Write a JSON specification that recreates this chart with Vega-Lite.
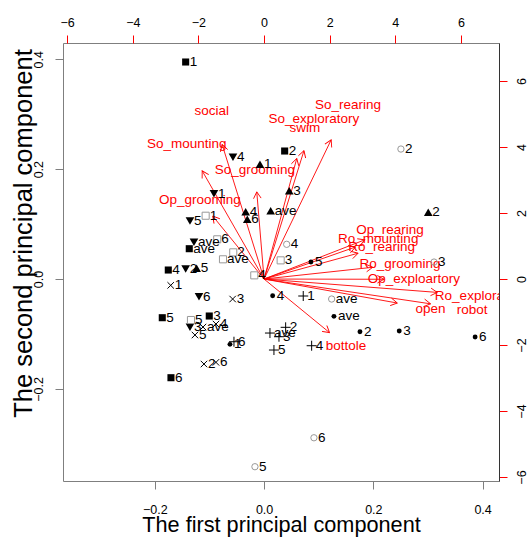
{
  "$schema": "https://vega.github.io/schema/vega-lite/v6.json",
  "width": 436,
  "height": 438,
  "autosize": {"type": "none"},
  "padding": {"left": 63, "top": 43, "right": 30, "bottom": 56},
  "background": "white",
  "config": {
    "font": "Liberation Sans",
    "view": {"stroke": "#7f7f7f", "strokeWidth": 1},
    "axis": {"grid": false, "domain": false, "labelFont": "Liberation Sans", "labelFontSize": 12.5, "labelColor": "black", "tickSize": 8, "tickColor": "#7f7f7f", "titleFont": "Liberation Sans", "titleFontWeight": "normal", "titleFontSize": 21.7, "titleColor": "black"}
  },
  "datasets": {
    "pts": [
      {"g": "sq", "label": "1", "x": -0.1435, "y": 0.395},
      {"g": "sq", "label": "2", "x": 0.0377, "y": 0.233},
      {"g": "sq", "label": "3", "x": -0.1003, "y": -0.0673},
      {"g": "sq", "label": "4", "x": -0.1753, "y": 0.0164},
      {"g": "sq", "label": "5", "x": -0.1863, "y": -0.0704},
      {"g": "sq", "label": "6", "x": -0.1704, "y": -0.1796},
      {"g": "sq", "label": "ave", "x": -0.1369, "y": 0.0552},
      {"g": "dn", "label": "1", "x": -0.0917, "y": 0.1553},
      {"g": "dn", "label": "2", "x": -0.1435, "y": 0.0182},
      {"g": "dn", "label": "3", "x": -0.1356, "y": -0.0879},
      {"g": "dn", "label": "4", "x": -0.0569, "y": 0.2215},
      {"g": "dn", "label": "5", "x": -0.1356, "y": 0.1056},
      {"g": "dn", "label": "6", "x": -0.1191, "y": -0.0322},
      {"g": "dn", "label": "ave", "x": -0.1283, "y": 0.0668},
      {"g": "up", "label": "1", "x": -0.0075, "y": 0.2088},
      {"g": "up", "label": "2", "x": 0.3005, "y": 0.1214},
      {"g": "up", "label": "3", "x": 0.0461, "y": 0.1607},
      {"g": "up", "label": "4", "x": -0.0337, "y": 0.1225},
      {"g": "up", "label": "5", "x": -0.1234, "y": 0.0195},
      {"g": "up", "label": "6", "x": -0.0307, "y": 0.1087},
      {"g": "up", "label": "ave", "x": 0.0121, "y": 0.1243},
      {"g": "osq", "label": "1", "x": -0.1069, "y": 0.1152},
      {"g": "osq", "label": "2", "x": -0.0564, "y": 0.0486},
      {"g": "osq", "label": "3", "x": 0.0304, "y": 0.034},
      {"g": "osq", "label": "4", "x": -0.0179, "y": 0.0067},
      {"g": "osq", "label": "5", "x": -0.1338, "y": -0.0746},
      {"g": "osq", "label": "6", "x": -0.0857, "y": 0.0723},
      {"g": "osq", "label": "ave", "x": -0.0752, "y": 0.0359},
      {"g": "oci", "label": "2", "x": 0.2505, "y": 0.2366},
      {"g": "oci", "label": "3", "x": 0.3111, "y": 0.0309},
      {"g": "oci", "label": "4", "x": 0.0414, "y": 0.0632},
      {"g": "oci", "label": "5", "x": -0.0167, "y": -0.3416},
      {"g": "oci", "label": "6", "x": 0.0913, "y": -0.2889},
      {"g": "oci", "label": "ave", "x": 0.1237, "y": -0.0364},
      {"g": "x", "label": "1", "x": -0.1709, "y": -0.0115},
      {"g": "x", "label": "2", "x": -0.11, "y": -0.1547},
      {"g": "x", "label": "3", "x": -0.0575, "y": -0.0364},
      {"g": "x", "label": "4", "x": -0.088, "y": -0.0819},
      {"g": "x", "label": "5", "x": -0.1265, "y": -0.1019},
      {"g": "x", "label": "6", "x": -0.088, "y": -0.1516},
      {"g": "x", "label": "ave", "x": -0.1118, "y": -0.0874},
      {"g": "plus", "label": "1", "x": 0.0717, "y": -0.0309},
      {"g": "plus", "label": "2", "x": 0.0395, "y": -0.0879},
      {"g": "plus", "label": "3", "x": 0.0273, "y": -0.105},
      {"g": "plus", "label": "4", "x": 0.0871, "y": -0.1214},
      {"g": "plus", "label": "5", "x": 0.0181, "y": -0.1292},
      {"g": "plus", "label": "6", "x": -0.0551, "y": -0.1141},
      {"g": "plus", "label": "ave", "x": 0.0108, "y": -0.0983},
      {"g": "dot", "label": "1", "x": -0.0624, "y": -0.1189},
      {"g": "dot", "label": "2", "x": 0.1755, "y": -0.0959},
      {"g": "dot", "label": "3", "x": 0.2474, "y": -0.0946},
      {"g": "dot", "label": "4", "x": 0.0157, "y": -0.0304},
      {"g": "dot", "label": "5", "x": 0.0858, "y": 0.0309},
      {"g": "dot", "label": "6", "x": 0.3863, "y": -0.1056},
      {"g": "dot", "label": "ave", "x": 0.1279, "y": -0.0679}
    ],
    "vars": [
      {"v": "social", "lx": -1.597, "ly": 5.10, "ax": -1.278, "ay": 4.08, "ang": 342.7},
      {"v": "So_rearing", "lx": 2.556, "ly": 5.273, "ax": 2.045, "ay": 4.218, "ang": 25.7},
      {"v": "So_exploratory", "lx": 1.52, "ly": 4.864, "ax": 1.216, "ay": 3.891, "ang": 17.3},
      {"v": "swim", "lx": 1.246, "ly": 4.567, "ax": 0.997, "ay": 3.654, "ang": 15.2},
      {"v": "So_mounting", "lx": -2.358, "ly": 4.10, "ax": -1.886, "ay": 3.28, "ang": 330.2},
      {"v": "So_grooming", "lx": -0.277, "ly": 3.303, "ax": -0.222, "ay": 2.642, "ang": 355.2},
      {"v": "Op_grooming", "lx": -1.953, "ly": 2.385, "ax": -1.562, "ay": 1.908, "ang": 320.8},
      {"v": "Op_rearing", "lx": 3.836, "ly": 1.485, "ax": 3.069, "ay": 1.188, "ang": 68.7},
      {"v": "Ro_mounting", "lx": 3.48, "ly": 1.212, "ax": 2.784, "ay": 0.97, "ang": 70.7},
      {"v": "Ro_rearing", "lx": 3.583, "ly": 0.979, "ax": 2.866, "ay": 0.783, "ang": 74.6},
      {"v": "Ro_grooming", "lx": 4.141, "ly": 0.445, "ax": 3.313, "ay": 0.356, "ang": 83.8},
      {"v": "Op_exploartory", "lx": 4.567, "ly": -0.009, "ax": 3.654, "ay": -0.007, "ang": 90.1},
      {"v": "Ro_exploratory", "lx": 6.6, "ly": -0.506, "ax": 5.28, "ay": -0.405, "ang": 94.4},
      {"v": "open", "lx": 5.076, "ly": -0.909, "ax": 4.061, "ay": -0.727, "ang": 100.2},
      {"v": "robot", "lx": 6.344, "ly": -0.939, "ax": 5.075, "ay": -0.751, "ang": 98.5},
      {"v": "bottole", "lx": 2.495, "ly": -2.03, "ax": 1.996, "ay": -1.624, "ang": 129.3}
    ]
  },
  "layer": [
    {
      "data": {"name": "vars"},
      "layer": [
        {
          "mark": {"type": "rule", "color": "#ff0000", "strokeWidth": 0.9},
          "encoding": {
            "x": {"field": "ax", "type": "quantitative", "scale": {"domain": [-6.127, 7.16], "nice": false, "zero": false},
                  "axis": {"orient": "top", "values": [-6, -4, -2, 0, 2, 4, 6], "tickColor": "#ff0000", "title": null, "labelPadding": 6}},
            "y": {"field": "ay", "type": "quantitative", "scale": {"domain": [-6.12, 7.153], "nice": false, "zero": false},
                  "axis": {"orient": "right", "values": [-6, -4, -2, 0, 2, 4, 6], "tickColor": "#ff0000", "title": null, "labelAngle": 270, "labelAlign": "center", "labelBaseline": "top", "labelPadding": 8, "domain": true, "domainColor": "#333333"}},
            "x2": {"datum": 0},
            "y2": {"datum": 0}
          }
        },
        {
          "mark": {"type": "point", "shape": "M-0.5,0.866L0,0L0.5,0.866", "filled": false, "color": "#ff0000", "strokeWidth": 0.9, "size": 230, "opacity": 1},
          "encoding": {
            "x": {"field": "ax", "type": "quantitative"},
            "y": {"field": "ay", "type": "quantitative"},
            "angle": {"field": "ang", "type": "quantitative", "scale": null}
          }
        },
        {
          "mark": {"type": "text", "color": "#ff0000", "fontSize": 13.5, "font": "Liberation Sans", "align": "center", "baseline": "middle", "clip": true},
          "encoding": {
            "x": {"field": "lx", "type": "quantitative"},
            "y": {"field": "ly", "type": "quantitative"},
            "text": {"field": "v"}
          }
        }
      ]
    },
    {
      "data": {"name": "pts"},
      "layer": [
        {
          "transform": [{"filter": "datum.g === 'sq'"}],
          "mark": {"type": "point", "shape": "square", "filled": true, "color": "black", "size": 50, "opacity": 1},
          "encoding": {
            "x": {"field": "x", "type": "quantitative", "scale": {"domain": [-0.368, 0.43], "nice": false, "zero": false},
                  "axis": {"orient": "bottom", "values": [-0.2, 0, 0.2, 0.4], "format": ".1f", "title": "The first principal  component", "labelPadding": 14, "titleY": 50, "titleBaseline": "alphabetic"}},
            "y": {"field": "y", "type": "quantitative", "scale": {"domain": [-0.3676, 0.4296], "nice": false, "zero": false},
                  "axis": {"orient": "left", "values": [-0.2, 0, 0.2, 0.4], "format": ".1f", "title": "The second principal component", "titleFontSize": 25.5, "labelAngle": 270, "labelAlign": "center", "labelBaseline": "bottom", "labelPadding": 10, "titleAngle": 270, "titleX": -40, "titleY": 190, "titleBaseline": "middle"}}
          }
        },
        {
          "transform": [{"filter": "datum.g === 'dn'"}],
          "mark": {"type": "point", "shape": "triangle-down", "filled": true, "color": "black", "size": 75, "opacity": 1},
          "encoding": {"x": {"field": "x", "type": "quantitative"}, "y": {"field": "y", "type": "quantitative"}}
        },
        {
          "transform": [{"filter": "datum.g === 'up'"}],
          "mark": {"type": "point", "shape": "triangle-up", "filled": true, "color": "black", "size": 75, "opacity": 1},
          "encoding": {"x": {"field": "x", "type": "quantitative"}, "y": {"field": "y", "type": "quantitative"}}
        },
        {
          "transform": [{"filter": "datum.g === 'osq'"}],
          "mark": {"type": "point", "shape": "square", "filled": false, "color": "#999999", "strokeWidth": 1, "size": 50, "opacity": 1},
          "encoding": {"x": {"field": "x", "type": "quantitative"}, "y": {"field": "y", "type": "quantitative"}}
        },
        {
          "transform": [{"filter": "datum.g === 'oci'"}],
          "mark": {"type": "point", "shape": "circle", "filled": false, "color": "#999999", "strokeWidth": 1, "size": 40, "opacity": 1},
          "encoding": {"x": {"field": "x", "type": "quantitative"}, "y": {"field": "y", "type": "quantitative"}}
        },
        {
          "transform": [{"filter": "datum.g === 'x'"}],
          "mark": {"type": "point", "shape": "M-1,-1L1,1M-1,1L1,-1", "filled": false, "color": "black", "strokeWidth": 1, "size": 42, "opacity": 1},
          "encoding": {"x": {"field": "x", "type": "quantitative"}, "y": {"field": "y", "type": "quantitative"}}
        },
        {
          "transform": [{"filter": "datum.g === 'plus'"}],
          "mark": {"type": "point", "shape": "M-1,0L1,0M0,-1L0,1", "filled": false, "color": "black", "strokeWidth": 1, "size": 100, "opacity": 1},
          "encoding": {"x": {"field": "x", "type": "quantitative"}, "y": {"field": "y", "type": "quantitative"}}
        },
        {
          "transform": [{"filter": "datum.g === 'dot'"}],
          "mark": {"type": "point", "shape": "circle", "filled": true, "color": "black", "size": 24, "opacity": 1},
          "encoding": {"x": {"field": "x", "type": "quantitative"}, "y": {"field": "y", "type": "quantitative"}}
        },
        {
          "mark": {"type": "text", "color": "black", "fontSize": 13.5, "font": "Liberation Sans", "align": "left", "baseline": "middle", "dx": 4},
          "encoding": {"x": {"field": "x", "type": "quantitative"}, "y": {"field": "y", "type": "quantitative"}, "text": {"field": "label"}}
        }
      ]
    }
  ],
  "resolve": {"scale": {"x": "independent", "y": "independent"}, "axis": {"x": "independent", "y": "independent"}}
}
